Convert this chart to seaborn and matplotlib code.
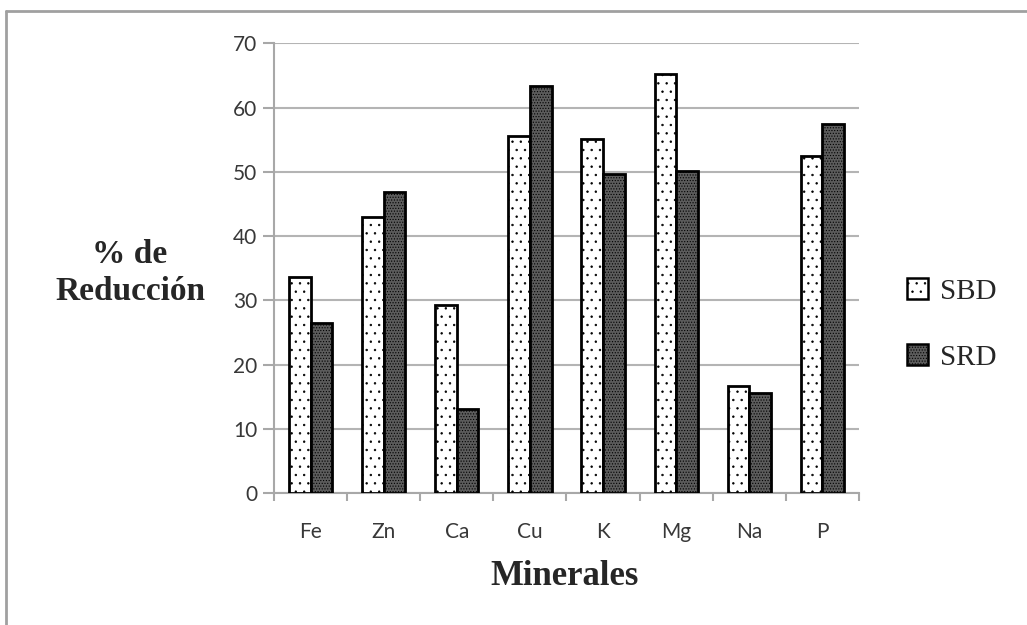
import pandas as pd
import matplotlib.pyplot as plt
import seaborn as sns
from matplotlib.lines import Line2D
from matplotlib.patches import Patch

# Data
minerales = ["Fe", "Zn", "Ca", "Cu", "K", "Mg", "Na", "P"]
sbd = [33.6, 43.0, 29.3, 55.6, 55.1, 65.2, 16.7, 52.5]
srd = [26.4, 46.9, 13.1, 63.4, 49.7, 50.1, 15.6, 57.5]
series = ["SBD", "SRD"]
y_ticks = [0, 10, 20, 30, 40, 50, 60, 70]

df = pd.DataFrame({
    "Mineral": minerales * 2,
    "Valor": sbd + srd,
    "Serie": [series[0]] * len(sbd) + [series[1]] * len(srd),
})

sns.set_style("white")
plt.rcParams["hatch.linewidth"] = 0.5

fig = plt.figure(figsize=(10.27, 6.25), dpi=100)
ax = fig.add_axes([0.2668, 0.2112, 0.5696, 0.7195])

colors = {"SBD": "white", "SRD": "#5c5c5c"}
hatches = {"SBD": "..", "SRD": "......"}

sns.barplot(data=df, x="Mineral", y="Valor", hue="Serie", palette=colors,
            width=0.59, edgecolor="black", linewidth=2, ax=ax, legend=False,
            zorder=3)

# dotted fill like the Excel pattern fills
for cont, s in zip(ax.containers, series):
    for bar in cont:
        bar.set_hatch(hatches[s])

ax.set_ylim(0, 70)
ax.set_xlim(-0.5, len(minerales) - 0.5)
ax.grid(axis="y", color="#b4b4b4", linewidth=1.5, zorder=0)
ax.set_axisbelow(True)

for side in ["top", "right"]:
    ax.spines[side].set_visible(False)
for side in ["left", "bottom"]:
    ax.spines[side].set_color("#a8a8a8")
    ax.spines[side].set_linewidth(1.5)

tick_font = {"family": "Lato", "size": 15, "color": "#383838"}
ax.set_yticks(y_ticks)
ax.set_yticklabels([str(v) for v in y_ticks], **tick_font)
ax.set_xticks(range(len(minerales)))
ax.set_xticklabels(minerales, **tick_font)
ax.tick_params(axis="y", direction="out", length=8, width=1.5, color="#a8a8a8", pad=4, left=True)
ax.tick_params(axis="x", which="major", length=0, pad=21)
ax.set_xticks([i - 0.5 for i in range(len(minerales) + 1)], minor=True)
ax.tick_params(axis="x", which="minor", direction="out", length=6, width=1.5,
               color="#a8a8a8", bottom=True)

ax.set_xlabel("Minerales", family="Liberation Serif", weight="bold", size=25, va="center")
ax.xaxis.set_label_coords(0.497, -0.186)
ax.set_ylabel("% de\nReducción", family="Liberation Serif", weight="bold", size=24,
              rotation=0, ha="center", va="center", multialignment="center",
              linespacing=1.25)
ax.yaxis.set_label_coords(-0.246, 0.49)

handles = [Patch(facecolor=colors[s], edgecolor="black", hatch=hatches[s], linewidth=1.8)
           for s in series]
fig.legend(handles, series, loc="center left", bbox_to_anchor=(0.883, 0.481),
           frameon=False, handlelength=0.72, handleheight=0.72, labelspacing=1.35,
           handletextpad=0.4, borderpad=0, borderaxespad=0,
           prop={"family": "Liberation Serif", "size": 21})

# Gray outer frame (cropped on right and bottom in the reference)
fig.add_artist(Line2D([6 / 1027, 6 / 1027], [0, 1 - 11 / 625], transform=fig.transFigure,
                      color="#a0a0a0", linewidth=2))
fig.add_artist(Line2D([6 / 1027, 1], [1 - 11 / 625, 1 - 11 / 625], transform=fig.transFigure,
                      color="#a0a0a0", linewidth=2))

fig.savefig("out.png", dpi=100)
